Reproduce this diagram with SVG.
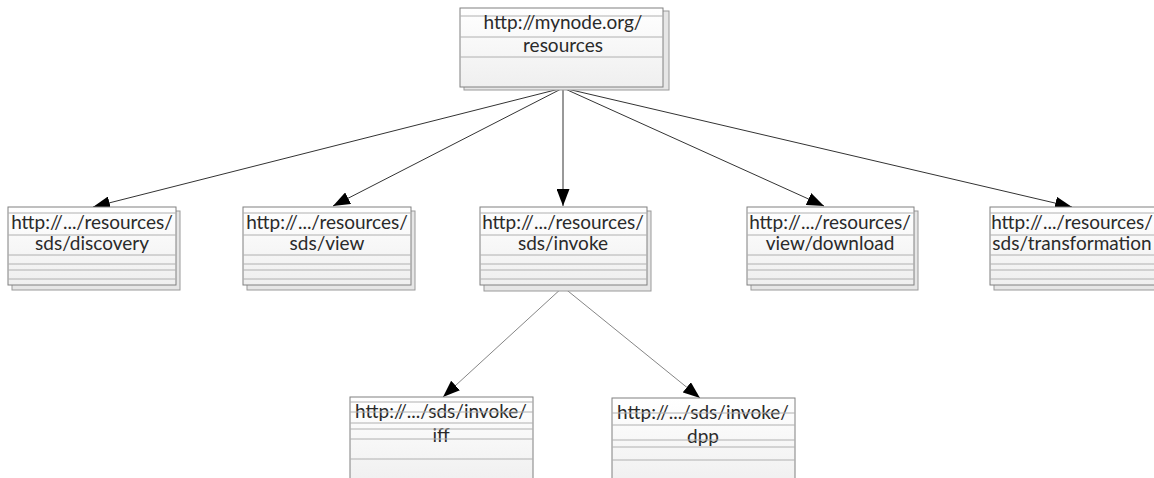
<svg xmlns="http://www.w3.org/2000/svg" width="1154" height="478" viewBox="0 0 1154 478">
  <style>
    .shadow { fill: #e6e6e6; stroke: #9a9a9a; stroke-width: 1; }
    .box { fill: url(#boxFill); stroke: #808080; stroke-width: 1; }
    .sep { stroke: #b0b0b0; stroke-width: 1; }
    .label { font-family: Lato, "Open Sans", sans-serif; font-size: 19px; fill: #2a2a2a; text-anchor: middle; }
    .edge { fill: none; stroke: #333; stroke-width: 1; }
    .edge2 { fill: none; stroke: #666; stroke-width: 0.8; }
  </style>
  <defs>
    <linearGradient id="boxFill" x1="0" y1="0" x2="0" y2="1">
      <stop offset="0" stop-color="#ffffff"/>
      <stop offset="1" stop-color="#efefef"/>
    </linearGradient>
    <marker id="arrow" viewBox="0 0 17 13" refX="17" refY="6.5" markerWidth="17" markerHeight="13" markerUnits="userSpaceOnUse" orient="auto">
      <path d="M0,0 L17,6.5 L0,13 Z" fill="#000"/>
    </marker>
  </defs>

  <!-- connectors -->
  <g id="connectors">
    <line class="edge" x1="563" y1="88" x2="93" y2="207" marker-end="url(#arrow)"/>
    <line class="edge" x1="563" y1="88" x2="333" y2="206" marker-end="url(#arrow)"/>
    <line class="edge" x1="563" y1="88" x2="563" y2="206" marker-end="url(#arrow)"/>
    <line class="edge" x1="563" y1="88" x2="824" y2="206" marker-end="url(#arrow)"/>
    <line class="edge" x1="563" y1="88" x2="1072" y2="207" marker-end="url(#arrow)"/>
    <line class="edge2" x1="563" y1="287" x2="443" y2="397" marker-end="url(#arrow)"/>
    <line class="edge2" x1="563" y1="287" x2="700" y2="398" marker-end="url(#arrow)"/>
  </g>

  <!-- root resource -->
  <g id="node-root">
    <rect class="shadow" x="464" y="11" width="205" height="79"/>
    <rect class="box" x="460" y="8" width="203" height="79"/>
    <line class="sep" x1="460" y1="16" x2="663" y2="16"/>
    <line class="sep" x1="460" y1="37" x2="663" y2="37"/>
    <line class="sep" x1="460" y1="57" x2="663" y2="57"/>
    <text class="label" x="563" y="29">http://mynode.org/</text>
    <text class="label" x="563" y="52">resources</text>
  </g>

  <g id="node-discovery">
    <rect class="shadow" x="12" y="211" width="168" height="79"/>
    <rect class="box" x="8" y="207" width="168" height="78"/>
    <line class="sep" x1="8" y1="213" x2="176" y2="213"/>
    <line class="sep" x1="8" y1="235" x2="176" y2="235"/>
    <line class="sep" x1="8" y1="255" x2="176" y2="255"/>
    <line class="sep" x1="8" y1="264" x2="176" y2="264"/>
    <line class="sep" x1="8" y1="270" x2="176" y2="270"/>
    <line class="sep" x1="8" y1="279" x2="176" y2="279"/>
    <text class="label" x="92" y="229">http://.../resources/</text>
    <text class="label" x="92" y="250">sds/discovery</text>
  </g>

  <g id="node-view">
    <rect class="shadow" x="247" y="211" width="168" height="79"/>
    <rect class="box" x="243" y="207" width="168" height="78"/>
    <line class="sep" x1="243" y1="213" x2="411" y2="213"/>
    <line class="sep" x1="243" y1="235" x2="411" y2="235"/>
    <line class="sep" x1="243" y1="255" x2="411" y2="255"/>
    <line class="sep" x1="243" y1="264" x2="411" y2="264"/>
    <line class="sep" x1="243" y1="270" x2="411" y2="270"/>
    <line class="sep" x1="243" y1="279" x2="411" y2="279"/>
    <text class="label" x="327" y="229">http://.../resources/</text>
    <text class="label" x="327" y="250">sds/view</text>
  </g>

  <g id="node-invoke">
    <rect class="shadow" x="484" y="211" width="167" height="80"/>
    <rect class="box" x="480" y="207" width="167" height="78"/>
    <line class="sep" x1="480" y1="213" x2="647" y2="213"/>
    <line class="sep" x1="480" y1="235" x2="647" y2="235"/>
    <line class="sep" x1="480" y1="255" x2="647" y2="255"/>
    <line class="sep" x1="480" y1="264" x2="647" y2="264"/>
    <line class="sep" x1="480" y1="270" x2="647" y2="270"/>
    <line class="sep" x1="480" y1="279" x2="647" y2="279"/>
    <text class="label" x="563" y="229">http://.../resources/</text>
    <text class="label" x="563" y="250">sds/invoke</text>
  </g>

  <g id="node-download">
    <rect class="shadow" x="751" y="211" width="167" height="79"/>
    <rect class="box" x="747" y="207" width="167" height="78"/>
    <line class="sep" x1="747" y1="213" x2="914" y2="213"/>
    <line class="sep" x1="747" y1="235" x2="914" y2="235"/>
    <line class="sep" x1="747" y1="255" x2="914" y2="255"/>
    <line class="sep" x1="747" y1="264" x2="914" y2="264"/>
    <line class="sep" x1="747" y1="270" x2="914" y2="270"/>
    <line class="sep" x1="747" y1="279" x2="914" y2="279"/>
    <text class="label" x="830" y="229">http://.../resources/</text>
    <text class="label" x="830" y="250">view/download</text>
  </g>

  <g id="node-transformation">
    <rect class="shadow" x="994" y="211" width="170" height="79"/>
    <rect class="box" x="990" y="207" width="170" height="78"/>
    <line class="sep" x1="990" y1="213" x2="1160" y2="213"/>
    <line class="sep" x1="990" y1="235" x2="1160" y2="235"/>
    <line class="sep" x1="990" y1="255" x2="1160" y2="255"/>
    <line class="sep" x1="990" y1="264" x2="1160" y2="264"/>
    <line class="sep" x1="990" y1="270" x2="1160" y2="270"/>
    <line class="sep" x1="990" y1="279" x2="1160" y2="279"/>
    <text class="label" x="1072" y="229">http://.../resources/</text>
    <text class="label" x="1072" y="250">sds/transformation</text>
  </g>

  <g id="node-iff">
    <rect class="box" x="350" y="397" width="183" height="90"/>
    <text class="label" x="441" y="418">http://.../sds/invoke/</text>
    <text class="label" x="441" y="442">iff</text>
    <line class="sep" x1="350" y1="402" x2="533" y2="402"/>
    <line class="sep" x1="350" y1="412" x2="533" y2="412"/>
    <line class="sep" x1="350" y1="423" x2="533" y2="423"/>
    <line class="sep" x1="350" y1="429" x2="533" y2="429"/>
    <line class="sep" x1="350" y1="439" x2="533" y2="439"/>
    <line class="sep" x1="350" y1="459" x2="533" y2="459"/>
  </g>

  <g id="node-dpp">
    <rect class="box" x="612" y="398" width="183" height="90"/>
    <text class="label" x="703" y="419">http://.../sds/invoke/</text>
    <text class="label" x="703" y="443">dpp</text>
    <line class="sep" x1="612" y1="413" x2="795" y2="413"/>
    <line class="sep" x1="612" y1="425" x2="795" y2="425"/>
    <line class="sep" x1="612" y1="440" x2="795" y2="440"/>
    <line class="sep" x1="612" y1="447" x2="795" y2="447"/>
    <line class="sep" x1="612" y1="460" x2="795" y2="460"/>
  </g>
</svg>
